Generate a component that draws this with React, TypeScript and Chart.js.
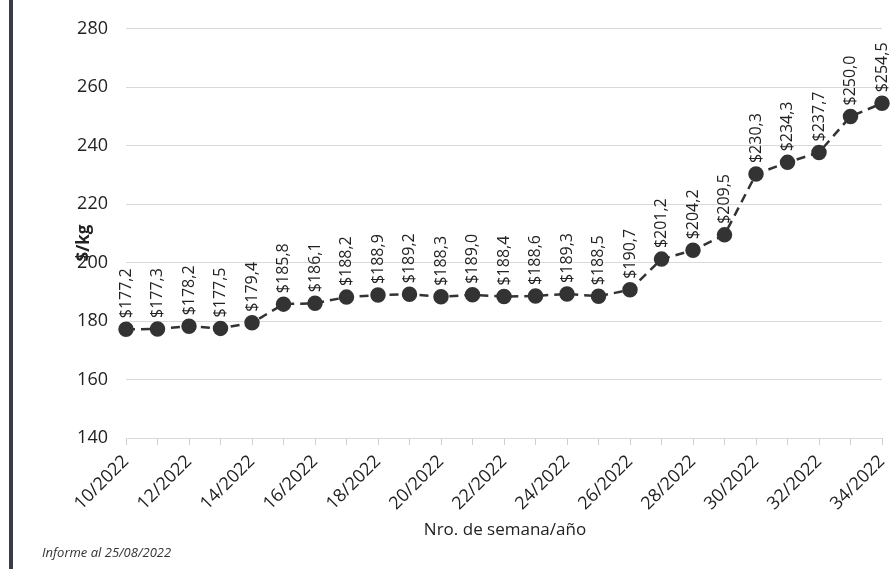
import React, { useEffect, useRef } from "react";
import { Chart, registerables } from "chart.js";
Chart.register(...registerables);

const weeks = ["10","11","12","13","14","15","16","17","18","19","20","21","22","23","24","25","26","27","28","29","30","31","32","33","34"];
const categories = weeks.map((w) => w + "/2022");
const prices = [177.2,177.3,178.2,177.5,179.4,185.8,186.1,188.2,188.9,189.2,188.3,189.0,188.4,188.6,189.3,188.5,190.7,201.2,204.2,209.5,230.3,234.3,237.7,250.0,254.5];
const yTicks = [140, 160, 180, 200, 220, 240, 260, 280];

const FONT = "'Open Sans', 'Noto Sans', sans-serif";

const extras = {
  id: "extras",
  afterDatasetsDraw(chart: any) {
    const ctx = chart.ctx;
    const meta = chart.getDatasetMeta(0);
    ctx.save();
    ctx.fillStyle = "#222";
    ctx.font = `16px ${FONT}`;
    ctx.textAlign = "left";
    ctx.textBaseline = "middle";
    meta.data.forEach((pt: any, i: number) => {
      ctx.save();
      ctx.translate(pt.x, pt.y - 11);
      ctx.rotate(-Math.PI / 2);
      ctx.fillText("$" + prices[i].toFixed(1).replace(".", ","), 0, 0);
      ctx.restore();
    });
    ctx.restore();
  },
  afterDraw(chart: any) {
    const ctx = chart.ctx;
    ctx.save();
    ctx.fillStyle = "#3b3b45";
    ctx.fillRect(9, 0, 4, 569);
    ctx.fillStyle = "#222";
    ctx.font = `bold 17px ${FONT}`;
    ctx.textAlign = "center";
    ctx.textBaseline = "middle";
    ctx.save();
    ctx.translate(84, 243);
    ctx.rotate(-Math.PI / 2);
    ctx.fillText("$/kg", 0, 0);
    ctx.restore();
    ctx.font = `17px ${FONT}`;
    ctx.fillText("Nro. de semana/año", 505, 530);
    ctx.font = `italic 13px ${FONT}`;
    ctx.textAlign = "left";
    ctx.fillStyle = "#333";
    ctx.fillText("Informe al 25/08/2022", 42, 553);
    ctx.restore();
  },
};

export default function App() {
  const ref = useRef<HTMLCanvasElement>(null);
  useEffect(() => {
    const chart = new Chart(ref.current!, {
      type: "line",
      data: {
        labels: categories,
        datasets: [{
          data: prices,
          borderColor: "#333",
          backgroundColor: "#333",
          borderWidth: 2.5,
          borderDash: [9, 6],
          pointRadius: 6.5,
          pointHoverRadius: 6.5,
          pointBackgroundColor: "#333",
          pointBorderColor: "#333",
          tension: 0,
        }],
      },
      options: {
        animation: false,
        responsive: false,
        layout: { padding: { left: 70, right: -13, top: 14, bottom: 0 } },
        plugins: { legend: { display: false }, tooltip: { enabled: false } },
        scales: {
          x: {
            offset: false,
            afterFit: (s: any) => { s.height = 131; s.paddingRight = 0; },
            grid: { display: true, drawOnChartArea: false, tickLength: 7, color: "#d0d0d0" },
            border: { display: false },
            ticks: {
              autoSkip: false,
              maxRotation: 45,
              minRotation: 45,
              padding: 6,
              color: "#222",
              font: { family: FONT, size: 18 },
              callback: (_v: any, i: number) => (i % 2 === 0 ? categories[i] : ""),
            },
          },
          y: {
            min: 140,
            max: 280,
            afterFit: (s: any) => { s.width = 56; },
            afterBuildTicks: (s: any) => { s.ticks = yTicks.map((v) => ({ value: v })); },
            grid: { color: "#d9d9d9", drawTicks: false },
            border: { display: false },
            ticks: { padding: 18, color: "#222", font: { family: FONT, size: 18 } },
          },
        },
      },
      plugins: [extras],
    });
    return () => chart.destroy();
  }, []);
  return (
    <div style={{ position: "absolute", left: 0, top: 0 }}>
      <canvas ref={ref} width={891} height={569} style={{ width: 891, height: 569, display: "block" }} />
    </div>
  );
}
